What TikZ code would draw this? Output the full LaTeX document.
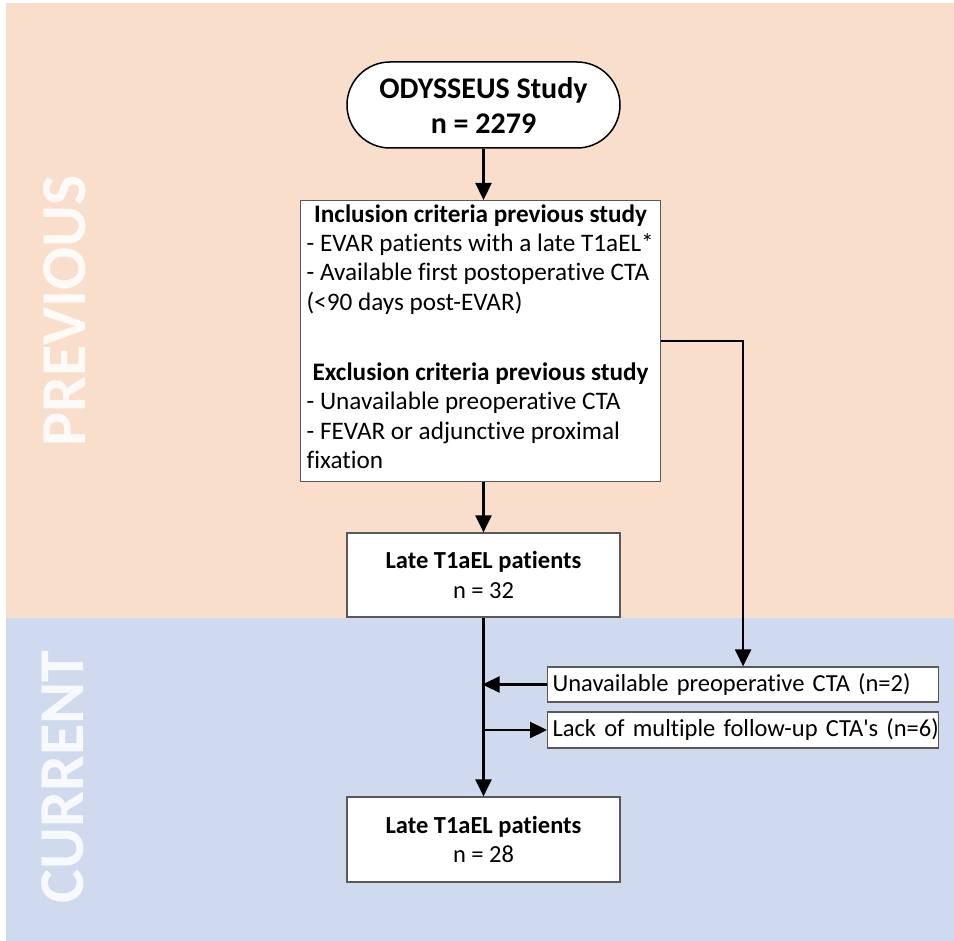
\documentclass[tikz,border=0pt]{standalone}
\usepackage{fontspec}
\setmainfont{Carlito}[Ligatures=NoCommon]
\usetikzlibrary{arrows.meta,shapes.misc}
\definecolor{peach}{HTML}{F9DFCB}
\definecolor{bluebg}{HTML}{CFDAEE}
\begin{document}
\begin{tikzpicture}[x=1pt,y=-1pt,
  box/.style={draw=black!65,line width=1.2pt,fill=white,inner sep=0pt},
  arr/.style={-{Triangle[length=17pt,width=16pt]},line width=2.3pt},
  sidelabel/.style={rotate=90,text=white,text opacity=0.85,font=\fontsize{64}{64}\selectfont\bfseries},
  body/.style={font=\fontsize{24.5}{29.5}\selectfont},
  critbody/.style={font=\fontsize{25.2}{29.5}\selectfont}]
\useasboundingbox (0,0) rectangle (954,941);
\fill[white] (0,0) rectangle (954,941);
\fill[peach] (6,3) rectangle (954,618);
\fill[bluebg] (6,618) rectangle (954,941);
\node[sidelabel] (prev) at (65,311) {PREVIOUS};
\node[sidelabel] (curr) at (63,777) {CURRENT};
\node[draw=black,line width=1.5pt,fill=white,rounded rectangle,inner sep=0pt,
  minimum width=273pt,minimum height=86pt,align=center,
  font=\fontsize{30}{35}\selectfont\bfseries] (ody) at (483.5,105) {ODYSSEUS Study\\n = 2279};
\node[box,critbody,anchor=north west,minimum width=360pt,minimum height=281pt,align=left] (crit) at (300,200)
  {\makebox[348pt][c]{\bfseries Inclusion criteria previous study}\\[-1pt]
   - EVAR patients with a late T1aEL*\\
   - Available first postoperative CTA\\
   (<90 days post-EVAR)\\[40.5pt]
   \makebox[348pt][c]{\bfseries Exclusion criteria previous study}\\
   - Unavailable preoperative CTA\\
   - FEVAR or adjunctive proximal\\
   fixation\\[-21pt]\mbox{}};
\node[box,body,minimum width=273pt,minimum height=84pt,align=center] (late1) at (483.5,575)
  {\textbf{Late T1aEL patients}\\n = 32};
\node[box,body,minimum width=273pt,minimum height=85pt,align=center] (late2) at (483.5,839.5)
  {\textbf{Late T1aEL patients}\\n = 28};
\node[box,body,anchor=west,minimum width=391pt,minimum height=35pt,inner xsep=5pt,text width=381pt,align=left] (ex1) at (547,684.5)
  {\mbox{Unavailable preoperative CTA (n=2)}};
\node[box,body,anchor=west,minimum width=391pt,minimum height=36pt,inner xsep=5pt,text width=381pt,align=left] (ex2) at (547,730)
  {\mbox{Lack of multiple follow-up CTA\textquotesingle s (n=6)}};
\draw[arr] (ody.south) -- (ody.south |- crit.north);
\draw[arr] (ody.south |- crit.south) -- (late1.north);
\draw[arr] (late1.south) -- (late2.north);
\draw[arr] (crit.east) -| (ex1.north);
\draw[arr,shorten >=-1pt] (ex1.west) -- (ex1.west -| late1.south) ;
\coordinate (split) at (ex2.west -| late1.south);
\draw[arr] (split) -- (ex2.west);
\end{tikzpicture}
\end{document}
